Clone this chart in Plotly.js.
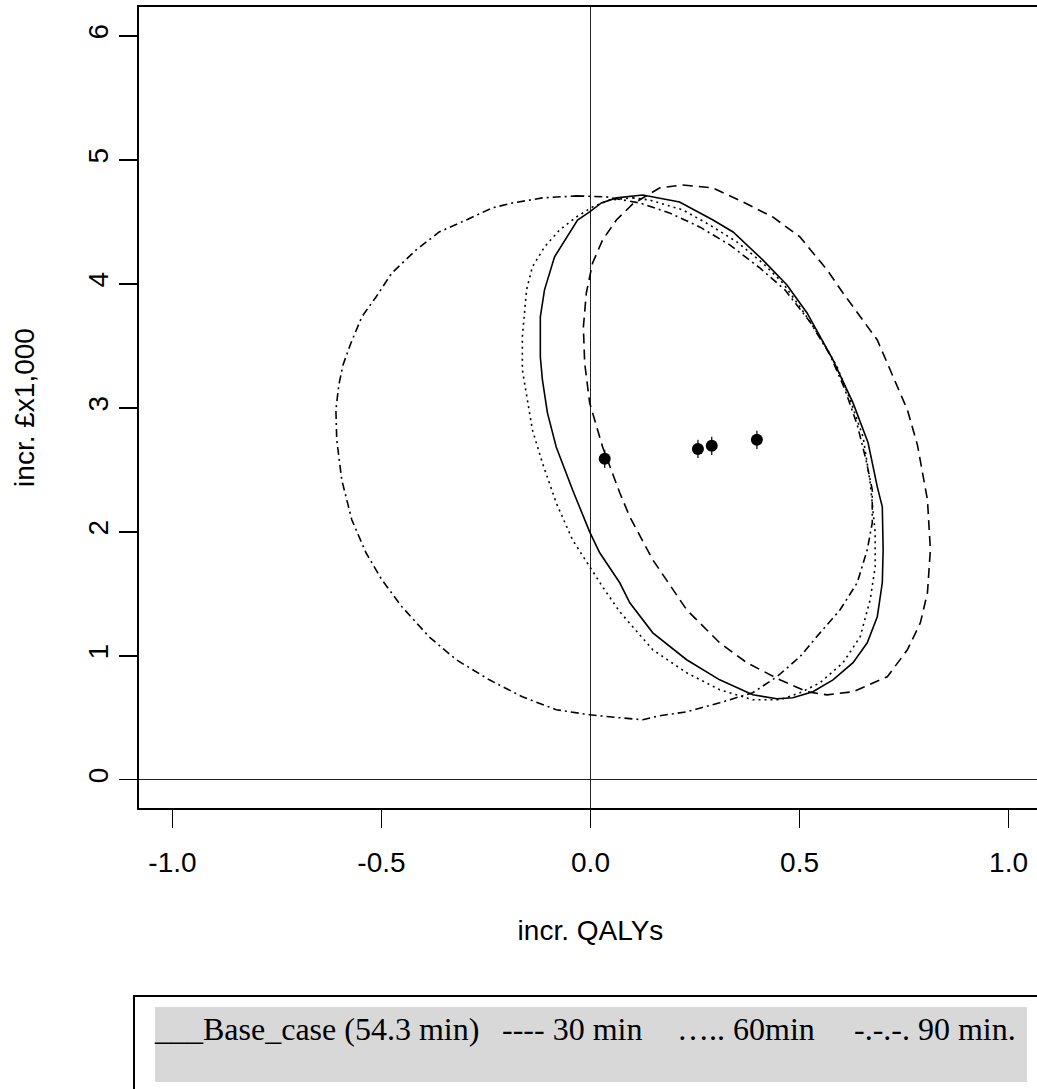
<!DOCTYPE html>
<html>
<head>
<meta charset="utf-8">
<script src="https://cdn.plot.ly/plotly-3.0.1.min.js"></script>
<style>
html, body { margin: 0; padding: 0; overflow: hidden; background: #fff; }
#chart { width: 1045px; height: 1089px; }
</style>
</head>
<body>
<div id="chart"></div>
<script>
// ---- data ----
var baseX = [0.125,0.213,0.293,0.341,0.412,0.470,0.518,0.580,0.628,0.664,0.686,0.698,0.700,0.698,0.686,0.662,0.628,0.580,0.532,0.484,0.446,0.388,0.309,0.230,0.149,0.094,0.070,0.022,-0.002,-0.043,-0.082,-0.103,-0.115,-0.120,-0.120,-0.110,-0.086,-0.058,-0.031,-0.002,0.026,0.062,0.125];
var baseY = [4.718,4.661,4.516,4.419,4.194,3.992,3.766,3.387,3.040,2.718,2.363,2.202,1.855,1.589,1.315,1.105,0.944,0.806,0.710,0.661,0.653,0.685,0.806,0.968,1.185,1.427,1.589,1.831,2.000,2.339,2.685,2.960,3.226,3.411,3.734,3.952,4.218,4.371,4.516,4.581,4.653,4.694,4.718];

var min30X = [0.221,0.293,0.365,0.436,0.501,0.566,0.604,0.652,0.686,0.724,0.758,0.782,0.806,0.813,0.806,0.789,0.758,0.710,0.628,0.566,0.518,0.453,0.374,0.309,0.230,0.149,0.094,0.070,0.029,-0.002,-0.014,-0.017,-0.010,0.005,0.029,0.062,0.101,0.165,0.221];
var min30Y = [4.798,4.774,4.661,4.540,4.379,4.113,3.927,3.710,3.548,3.250,2.984,2.702,2.258,1.855,1.508,1.266,1.048,0.831,0.710,0.685,0.710,0.806,0.944,1.105,1.371,1.774,2.121,2.315,2.685,3.040,3.363,3.653,3.927,4.169,4.355,4.516,4.645,4.774,4.798];

var min60X = [0.101,0.141,0.221,0.285,0.350,0.412,0.460,0.501,0.549,0.590,0.621,0.652,0.669,0.681,0.681,0.669,0.645,0.604,0.549,0.501,0.453,0.388,0.309,0.230,0.149,0.070,0.029,-0.002,-0.043,-0.082,-0.115,-0.139,-0.151,-0.163,-0.163,-0.153,-0.139,-0.110,-0.074,-0.034,0.005,0.046,0.101];
var min60Y = [4.694,4.677,4.597,4.476,4.339,4.169,4.008,3.815,3.573,3.331,3.065,2.766,2.395,1.992,1.718,1.452,1.153,0.944,0.782,0.702,0.645,0.645,0.726,0.863,1.048,1.355,1.556,1.718,1.935,2.234,2.556,2.823,3.065,3.306,3.573,3.952,4.137,4.298,4.435,4.540,4.621,4.677,4.694];

var min90X = [-0.034,0.038,0.118,0.189,0.261,0.333,0.405,0.465,0.525,0.573,0.609,0.638,0.659,0.674,0.674,0.662,0.638,0.597,0.549,0.501,0.446,0.388,0.309,0.230,0.165,0.125,0.070,-0.002,-0.082,-0.163,-0.242,-0.321,-0.386,-0.451,-0.499,-0.537,-0.571,-0.595,-0.607,-0.609,-0.602,-0.592,-0.573,-0.547,-0.513,-0.475,-0.417,-0.362,-0.297,-0.235,-0.187,-0.115,-0.034];
var min90Y = [4.710,4.702,4.653,4.573,4.460,4.315,4.129,3.952,3.694,3.427,3.145,2.863,2.581,2.339,2.073,1.855,1.589,1.371,1.185,0.992,0.831,0.702,0.621,0.548,0.516,0.484,0.500,0.524,0.565,0.669,0.806,0.968,1.153,1.395,1.613,1.831,2.097,2.419,2.742,2.984,3.185,3.347,3.524,3.734,3.895,4.089,4.274,4.419,4.516,4.613,4.653,4.694,4.710];

var pointX = [0.034,0.257,0.290,0.398];
var pointY = [2.589,2.669,2.694,2.742];

var xTickVals = [-1.0,-0.5,0.0,0.5,1.0];
var xTickText = ["-1.0","-0.5","0.0","0.5","1.0"];
var yTickVals = [0,1,2,3,4,5,6];
var yTickText = ["0","1","2","3","4","5","6"];

var xTitle = "incr. QALYs";
var yTitle = "incr. £x1,000";
var legendLabels = ["___Base_case (54.3 min)", "---- 30 min", "….. 60min", "-.-.-. 90 min."];

// ---- layout geometry (pixels) ----
var W = 1045, H = 1089;
var ML = 139, MR = 3, MT = 7, MB = 281;
var PW = W - ML - MR, PH = H - MT - MB;
function px2paperX(p) { return (p - ML) / PW; }
function px2paperY(p) { return (H - MB - p) / PH; }

var sans = "Liberation Sans, Arial, Helvetica, sans-serif";
var serif = "Liberation Serif, Times New Roman, Times, serif";
var lw = 1.6;

var traces = [
  {x: baseX, y: baseY, mode: "lines", line: {color: "#000", width: lw, dash: "solid"}, hoverinfo: "skip"},
  {x: min30X, y: min30Y, mode: "lines", line: {color: "#000", width: lw, dash: "10px,6px"}, hoverinfo: "skip"},
  {x: min60X, y: min60Y, mode: "lines", line: {color: "#000", width: lw, dash: "2px,4px"}, hoverinfo: "skip"},
  {x: min90X, y: min90Y, mode: "lines", line: {color: "#000", width: lw, dash: "8px,4px,2px,4px"}, hoverinfo: "skip"},
  {x: pointX, y: pointY, mode: "markers", marker: {symbol: "circle", size: 12, color: "#000"}, hoverinfo: "skip"},
  {x: pointX, y: pointY, mode: "markers", marker: {symbol: "line-ns", size: 13, line: {color: "#000", width: 1.2}}, hoverinfo: "skip"}
];

var legendStarts = [155, 503, 678, 855];
var annotations = legendLabels.map(function (t, i) {
  return {
    xref: "paper", yref: "paper",
    x: px2paperX(legendStarts[i] - 3), y: px2paperY(1029),
    xanchor: "left", yanchor: "middle",
    text: t, showarrow: false,
    font: {family: serif, size: 32, color: "#000"}
  };
});

var shapes = [
  {type: "rect", xref: "paper", yref: "paper",
   x0: px2paperX(134), x1: px2paperX(1080), y0: px2paperY(996), y1: px2paperY(1120),
   line: {color: "#000", width: 2}, fillcolor: "rgba(0,0,0,0)"},
  {type: "rect", xref: "paper", yref: "paper",
   x0: px2paperX(155), x1: px2paperX(1027), y0: px2paperY(1007), y1: px2paperY(1082),
   line: {width: 0}, fillcolor: "#d8d8d8", layer: "above"}
];

var layout = {
  width: W, height: H,
  margin: {l: ML, r: MR, t: MT, b: MB, pad: 0},
  paper_bgcolor: "#fff", plot_bgcolor: "#fff",
  showlegend: false,
  font: {family: sans, size: 28, color: "#000"},
  xaxis: {
    range: [-1.08, 1.08], autorange: false,
    tickmode: "array", tickvals: xTickVals, ticktext: xTickText,
    ticks: "outside", ticklen: 18, tickwidth: 1.5, tickcolor: "#000",
    ticklabelstandoff: 10,
    showgrid: false, zeroline: true, zerolinecolor: "#222", zerolinewidth: 1.5,
    showline: true, mirror: true, linecolor: "#000", linewidth: 2,
    tickfont: {family: sans, size: 28, color: "#000"},
    title: {text: xTitle, font: {family: sans, size: 28, color: "#000"}, standoff: 44},
    automargin: false, fixedrange: true
  },
  yaxis: {
    range: [-0.228, 6.234], autorange: false,
    tickmode: "array", tickvals: yTickVals, ticktext: yTickText,
    ticks: "outside", ticklen: 18, tickwidth: 1.5, tickcolor: "#000",
    tickangle: -90,
    showgrid: false, zeroline: true, zerolinecolor: "#222", zerolinewidth: 1.5,
    showline: true, mirror: true, linecolor: "#000", linewidth: 2,
    tickfont: {family: sans, size: 28, color: "#000"},
    title: {text: yTitle, font: {family: sans, size: 28, color: "#000"}, standoff: 40},
    automargin: false, fixedrange: true
  },
  shapes: shapes,
  annotations: annotations
};

Plotly.newPlot("chart", traces, layout, {displayModeBar: false, staticPlot: true});
</script>
</body>
</html>
